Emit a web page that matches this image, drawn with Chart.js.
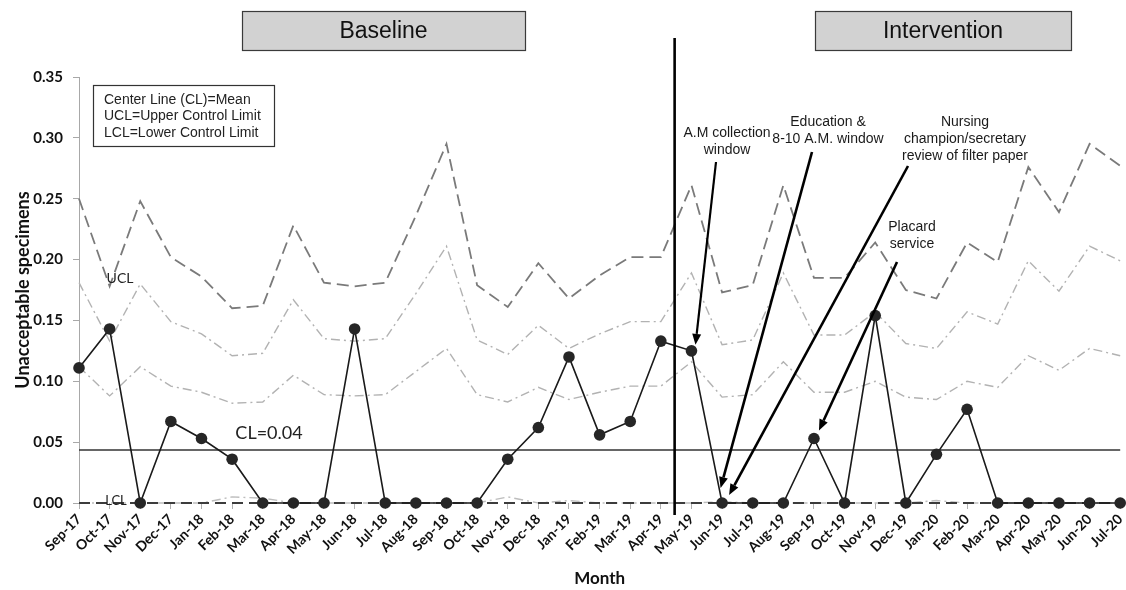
<!DOCTYPE html>
<html><head><meta charset="utf-8">
<script src="https://cdn.jsdelivr.net/npm/chart.js@4"></script>
<style>html,body{margin:0;padding:0;background:#fff;overflow:hidden}</style>
</head><body>
<canvas id="c" width="1126" height="590" style="width:1126px;height:590px;display:block"></canvas>
<script>
const months = ["Sep-17","Oct-17","Nov-17","Dec-17","Jan-18","Feb-18","Mar-18","Apr-18","May-18","Jun-18","Jul-18","Aug-18","Sep-18","Oct-18","Nov-18","Dec-18","Jan-19","Feb-19","Mar-19","Apr-19","May-19","Jun-19","Jul-19","Aug-19","Sep-19","Oct-19","Nov-19","Dec-19","Jan-20","Feb-20","Mar-20","Apr-20","May-20","Jun-20","Jul-20"];
const unacceptable = [0.111,0.143,0,0.067,0.053,0.036,0,0,0,0.143,0,0,0,0,0.036,0.062,0.120,0.056,0.067,0.133,0.125,0,0,0,0.053,0,0.154,0,0.040,0.077,0,0,0,0,0];
const ucl = [0.250,0.178,0.248,0.202,0.186,0.160,0.162,0.228,0.181,0.178,0.181,0.236,0.295,0.179,0.161,0.197,0.168,0.187,0.202,0.202,0.261,0.173,0.179,0.261,0.185,0.185,0.214,0.175,0.168,0.214,0.198,0.276,0.239,0.295,0.277];
const upper2Sigma = [0.181,0.133,0.180,0.149,0.139,0.121,0.123,0.167,0.135,0.133,0.135,0.172,0.211,0.134,0.122,0.146,0.127,0.139,0.149,0.149,0.189,0.130,0.134,0.189,0.138,0.138,0.157,0.131,0.127,0.157,0.147,0.199,0.174,0.211,0.199];
const upper1Sigma = [0.112,0.088,0.112,0.096,0.091,0.082,0.083,0.105,0.089,0.088,0.089,0.108,0.127,0.089,0.083,0.095,0.085,0.091,0.096,0.096,0.116,0.087,0.089,0.116,0.091,0.091,0.100,0.087,0.085,0.100,0.095,0.121,0.109,0.127,0.121];
const lower1Sigma = [0,0,0,0,0,0.005,0.004,0,0,0,0,0,0,0,0.005,0,0.002,0,0,0,0,0.001,0,0,0,0,0,0,0.002,0,0,0,0,0,0];
const lcl = [0,0,0,0,0,0,0,0,0,0,0,0,0,0,0,0,0,0,0,0,0,0,0,0,0,0,0,0,0,0,0,0,0,0,0];
const centerLine = 0.0436;
const phaseBoundary = 19.45;
const yMin = 0, yMax = 0.35, yStep = 0.05;

const TICKFONT = "Lato";
const ANNFONT = "'Liberation Sans', Arial, sans-serif";

function arrow(ctx, x1, y1, x2, y2, w) {
  const ang = Math.atan2(y2 - y1, x2 - x1);
  const hl = 11, hw = 4.5;
  const bx = x2 - hl * Math.cos(ang), by = y2 - hl * Math.sin(ang);
  ctx.save();
  ctx.strokeStyle = '#000'; ctx.fillStyle = '#000'; ctx.lineWidth = w;
  ctx.beginPath(); ctx.moveTo(x1, y1); ctx.lineTo(bx, by); ctx.stroke();
  ctx.beginPath();
  ctx.moveTo(x2, y2);
  ctx.lineTo(bx + hw * Math.sin(ang), by - hw * Math.cos(ang));
  ctx.lineTo(bx - hw * Math.sin(ang), by + hw * Math.cos(ang));
  ctx.closePath(); ctx.fill();
  ctx.restore();
}

const decor = {
  id: 'decor',
  beforeDatasetsDraw(chart) {
    const {ctx, chartArea: a, scales: {x, y}} = chart;
    const yc = y.getPixelForValue(centerLine);
    ctx.save();
    ctx.strokeStyle = '#333'; ctx.lineWidth = 1.6;
    ctx.beginPath(); ctx.moveTo(a.left, yc); ctx.lineTo(a.right, yc); ctx.stroke();
    ctx.restore();
  },
  afterDatasetsDraw(chart) {
    const {ctx, chartArea: a, scales: {x, y}} = chart;
    ctx.save();
    const xb = x.getPixelForValue(phaseBoundary);
    ctx.strokeStyle = '#000'; ctx.lineWidth = 2.6;
    ctx.beginPath(); ctx.moveTo(xb, 38); ctx.lineTo(xb, a.bottom + 12); ctx.stroke();

    function box(x0, x1, label) {
      ctx.fillStyle = '#d2d2d2'; ctx.fillRect(x0, 11, x1 - x0, 40);
      ctx.strokeStyle = '#3a3a3a'; ctx.lineWidth = 1.2; ctx.strokeRect(x0 + 0.5, 11.5, x1 - x0, 39);
      ctx.fillStyle = '#111'; ctx.font = "23px " + ANNFONT; ctx.textAlign = 'center'; ctx.textBaseline = 'middle';
      ctx.fillText(label, (x0 + x1) / 2, 32);
    }
    box(242, 525, 'Baseline');
    box(815, 1071, 'Intervention');

    ctx.strokeStyle = '#333'; ctx.lineWidth = 1.2;
    ctx.strokeRect(93.5, 85.5, 181, 61);
    ctx.fillStyle = '#222'; ctx.font = "14px " + ANNFONT; ctx.textAlign = 'left'; ctx.textBaseline = 'middle';
    ctx.fillText('Center Line (CL)=Mean', 104, 100);
    ctx.fillText('UCL=Upper Control Limit', 104, 116.5);
    ctx.fillText('LCL=Lower Control Limit', 104, 133);

    ctx.fillStyle = '#222'; ctx.font = "18px " + TICKFONT; ctx.textAlign = 'center';
    ctx.fillText('CL=0.04', 269, 433);
    ctx.font = "14px " + TICKFONT;
    ctx.fillText('UCL', 120, 278);
    ctx.font = "13px " + TICKFONT;
    ctx.fillText('LCL', 116, 501);

    ctx.fillStyle = '#1a1a1a'; ctx.font = "14px " + ANNFONT; ctx.textAlign = 'center';
    ctx.fillText('A.M collection', 727, 133);
    ctx.fillText('window', 727, 150);
    ctx.fillText('Education &', 828, 122);
    ctx.fillText('8-10 A.M. window', 828, 139);
    ctx.fillText('Nursing', 965, 122);
    ctx.fillText('champion/secretary', 965, 139);
    ctx.fillText('review of filter paper', 965, 156);
    ctx.fillText('Placard', 912, 227);
    ctx.fillText('service', 912, 244);

    const px = i => x.getPixelForValue(i), py = v => y.getPixelForValue(v);
    const iMay19 = months.indexOf('May-19'), iJun19 = months.indexOf('Jun-19'), iSep19 = months.indexOf('Sep-19');
    arrow(ctx, 716, 162, px(iMay19) + 4, py(unacceptable[iMay19]) - 6, 2.2);
    arrow(ctx, 812, 152, px(iJun19) - 1.5, py(unacceptable[iJun19]) - 15, 2.6);
    arrow(ctx, 908, 166, px(iJun19) + 7, py(unacceptable[iJun19]) - 8, 2.6);
    arrow(ctx, 897, 262, px(iSep19) + 5, py(unacceptable[iSep19]) - 8, 2.6);
    ctx.restore();
  }
};

const dashDot = [9, 4, 2, 4];
new Chart(document.getElementById('c'), {
  type: 'line',
  data: {
    labels: months,
    datasets: [
      { label: 'Unacceptable specimens', data: unacceptable, borderColor: '#1a1a1a', borderWidth: 1.6,
        pointRadius: 5.8, pointBackgroundColor: '#262626', pointBorderColor: '#262626', pointBorderWidth: 0, tension: 0, clip: false },
      { label: 'LCL', data: lcl, borderColor: '#3c3c3c', borderWidth: 2, borderDash: [11, 6], pointRadius: 0, tension: 0, clip: false },
      { label: 'UCL', data: ucl, borderColor: '#7a7a7a', borderWidth: 1.8, borderDash: [12, 6], pointRadius: 0, tension: 0 },
      { label: '+2 sigma', data: upper2Sigma, borderColor: '#b2b2b2', borderWidth: 1.4, borderDash: dashDot, pointRadius: 0, tension: 0 },
      { label: '+1 sigma', data: upper1Sigma, borderColor: '#b2b2b2', borderWidth: 1.4, borderDash: dashDot, pointRadius: 0, tension: 0 },
      { label: '-1 sigma', data: lower1Sigma, borderColor: '#bdbdbd', borderWidth: 1.4, borderDash: dashDot, pointRadius: 0, tension: 0, clip: false }
    ]
  },
  options: {
    responsive: false, animation: false, devicePixelRatio: 1,
    layout: { padding: { left: 0, right: 3, top: 77, bottom: 0 } },
    plugins: { legend: { display: false }, tooltip: { enabled: false } },
    scales: {
      x: {
        offset: false,
        grid: { drawOnChartArea: false, color: '#b0b0b0', tickLength: 6, tickWidth: 1 },
        border: { display: false },
        ticks: { autoSkip: false, maxRotation: 45, minRotation: 45, color: '#111', padding: 2,
                 font: { family: TICKFONT, size: 14, weight: 'bold' } },
        title: { display: true, text: 'Month', color: '#111', padding: { top: 0, bottom: 1 },
                 font: { family: TICKFONT, size: 17, weight: 'bold' } },
        afterFit(s) { s.height = 87; s.paddingRight = 0; s.paddingLeft = 0; }
      },
      y: {
        min: yMin, max: yMax,
        grid: { drawOnChartArea: false, color: '#a8a8a8', tickLength: 6 },
        border: { display: true, color: '#a8a8a8', width: 1 },
        ticks: { stepSize: yStep, color: '#111', padding: 10, callback: v => Number(v).toFixed(2),
                 font: { family: TICKFONT, size: 15, weight: 'bold' } },
        title: { display: true, text: 'Unacceptable specimens', color: '#111', padding: { top: 12, bottom: 0 },
                 font: { family: TICKFONT, size: 18, weight: 'bold' } },
        afterFit(s) { s.width = 79; s.paddingTop = 0; s.paddingBottom = 0; }
      }
    }
  },
  plugins: [decor]
});
</script>
</body></html>
